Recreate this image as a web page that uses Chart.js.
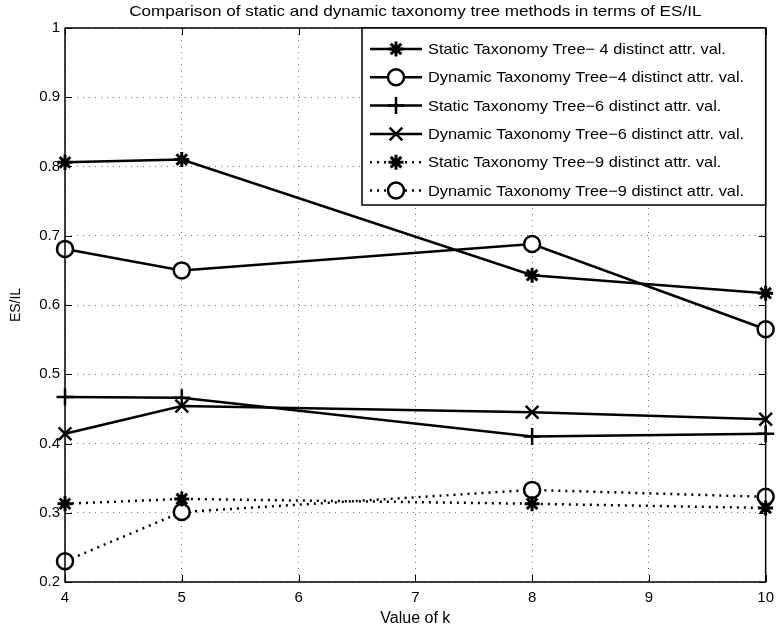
<!DOCTYPE html>
<html lang="en">
<head>
  <meta charset="UTF-8">
  <title>Comparison of static and dynamic taxonomy tree methods in terms of ES/IL</title>
  <script src="https://cdn.jsdelivr.net/npm/chart.js"></script>
  <style>
    html, body { margin: 0; padding: 0; background: #fff; }
    #wrap { width: 781px; height: 632px; }
  </style>
</head>
<body>
  <div id="wrap"><canvas id="esilChart" width="781" height="632"></canvas></div>
  <script>
    const chartTitle = "Comparison of static and dynamic taxonomy tree methods in terms of ES/IL";
    const kValues = [4, 5, 8, 10];
    const static4 = [0.806, 0.810, 0.643, 0.617];
    const dynamic4 = [0.681, 0.650, 0.688, 0.565];
    const static6 = [0.467, 0.466, 0.410, 0.414];
    const dynamic6 = [0.414, 0.454, 0.445, 0.435];
    const static9 = [0.313, 0.320, 0.313, 0.307];
    const dynamic9 = [0.230, 0.301, 0.333, 0.323];
    const seriesLabels = [
      "Static Taxonomy Tree\u2212 4 distinct attr. val.",
      "Dynamic Taxonomy Tree\u22124 distinct attr. val.",
      "Static Taxonomy Tree\u22126 distinct attr. val.",
      "Dynamic Taxonomy Tree\u22126 distinct attr. val.",
      "Static Taxonomy Tree\u22129 distinct attr. val.",
      "Dynamic Taxonomy Tree\u22129 distinct attr. val."
    ];
    const xTicks = [4, 5, 6, 7, 8, 9, 10];
    const yTicks = [0.2, 0.3, 0.4, 0.5, 0.6, 0.7, 0.8, 0.9, 1];

    const FONT = "'Liberation Sans', Arial, sans-serif";
    const dotted = [2, 5];

    function pts(values) {
      return values.map((v, i) => ({ x: kValues[i], y: v }));
    }

    function series(label, values, style, dash, radius, pbw) {
      return {
        label: label,
        data: pts(values),
        borderColor: "#000",
        borderWidth: 2.5,
        borderDash: dash || [],
        pointStyle: style,
        pointRadius: radius,
        pointBorderWidth: pbw,
        pointBorderColor: "#000",
        pointBackgroundColor: "#fff",
        tension: 0,
        fill: false,
        clip: false
      };
    }

    const datasets = [
      series(seriesLabels[0], static4, "star", null, 7.5, 3),
      series(seriesLabels[1], dynamic4, "circle", null, 8, 2.5),
      series(seriesLabels[2], static6, "cross", null, 8.5, 2.5),
      series(seriesLabels[3], dynamic6, "crossRot", null, 9, 2.5),
      series(seriesLabels[4], static9, "star", dotted, 7.5, 3),
      series(seriesLabels[5], dynamic9, "circle", dotted, 8, 2.5)
    ];

    // text a bit wider than the font gives, like the original export
    function wideText(ctx, text, x, y, align, sx) {
      ctx.save();
      ctx.textAlign = "left";
      const w = ctx.measureText(text).width * sx;
      const left = align === "center" ? x - w / 2 : x;
      ctx.translate(left, y);
      ctx.scale(sx, 1);
      ctx.fillText(text, 0, 0);
      ctx.restore();
    }

    // frame, inward ticks, title and the legend box inside the plot
    const matlabLook = {
      id: "matlabLook",
      afterDraw(chart) {
        const ctx = chart.ctx;
        const a = chart.chartArea;
        const xs = chart.scales.x;
        const ys = chart.scales.y;
        ctx.save();
        ctx.strokeStyle = "#000";
        ctx.lineWidth = 1.5;
        ctx.setLineDash([]);
        ctx.strokeRect(a.left, a.top, a.right - a.left, a.bottom - a.top);
        ctx.lineWidth = 1;
        ctx.beginPath();
        xTicks.forEach(t => {
          const px = Math.round(xs.getPixelForValue(t)) + 0.5;
          ctx.moveTo(px, a.bottom); ctx.lineTo(px, a.bottom - 7);
          ctx.moveTo(px, a.top); ctx.lineTo(px, a.top + 7);
        });
        yTicks.forEach(t => {
          const py = Math.round(ys.getPixelForValue(t)) + 0.5;
          ctx.moveTo(a.left, py); ctx.lineTo(a.left + 7, py);
          ctx.moveTo(a.right, py); ctx.lineTo(a.right - 7, py);
        });
        ctx.stroke();

        // title
        ctx.fillStyle = "#000";
        ctx.font = "15px " + FONT;
        ctx.textBaseline = "middle";
        wideText(ctx, chartTitle, (a.left + a.right) / 2, 12, "center", 1.14);

        // legend
        const bx = 362, by = a.top, bw = a.right - bx, bh = 177;
        ctx.fillStyle = "#fff";
        ctx.fillRect(bx, by, bw, bh);
        ctx.strokeStyle = "#000";
        ctx.lineWidth = 1.5;
        ctx.strokeRect(bx, by, bw, bh);
        chart.data.datasets.forEach((ds, i) => {
          const y = by + 21 + i * 28.3;
          ctx.strokeStyle = "#000";
          ctx.lineWidth = 2.5;
          ctx.setLineDash(ds.borderDash);
          ctx.beginPath();
          ctx.moveTo(370, y); ctx.lineTo(422, y);
          ctx.stroke();
          ctx.setLineDash([]);
          ctx.fillStyle = "#fff";
          ctx.lineWidth = ds.pointBorderWidth;
          Chart.helpers.drawPoint(ctx, {
            pointStyle: ds.pointStyle, radius: ds.pointRadius, rotation: 0, borderWidth: ds.pointBorderWidth
          }, 396, y);
          ctx.fillStyle = "#000";
          ctx.font = "15px " + FONT;
          ctx.textBaseline = "middle";
          wideText(ctx, ds.label, 428, y + 1, "left", 1.09);
        });
        ctx.restore();
      }
    };

    new Chart(document.getElementById("esilChart"), {
      type: "line",
      data: { datasets: datasets },
      options: {
        responsive: false,
        animation: false,
        layout: { padding: { top: 28, right: 12, left: 0, bottom: 0 } },
        plugins: { legend: { display: false }, title: { display: false }, tooltip: { enabled: false } },
        scales: {
          x: {
            type: "linear",
            min: 4, max: 10,
            afterBuildTicks: s => { s.ticks = xTicks.map(v => ({ value: v })); },
            afterFit: s => { s.height = 50; },
            ticks: { color: "#000", font: { family: FONT, size: 15 }, padding: 7, callback: v => String(v) },
            grid: { color: "#777", lineWidth: 1, drawTicks: false },
            border: { display: false, dash: [1, 5] },
            title: { display: true, text: "Value of k", color: "#000", font: { family: FONT, size: 16 }, padding: { top: 0, bottom: 4 } }
          },
          y: {
            min: 0.2, max: 1,
            afterBuildTicks: s => { s.ticks = yTicks.map(v => ({ value: v })); },
            afterFit: s => { s.width = 65; },
            ticks: { color: "#000", font: { family: FONT, size: 15 }, padding: 5, callback: v => String(+v.toFixed(1)) },
            grid: { color: "#777", lineWidth: 1, drawTicks: false },
            border: { display: false, dash: [1, 5] },
            title: { display: true, text: "ES/IL", color: "#000", font: { family: FONT, size: 14 }, padding: { top: 8, bottom: 0 } }
          }
        }
      },
      plugins: [matlabLook]
    });
  </script>
</body>
</html>
